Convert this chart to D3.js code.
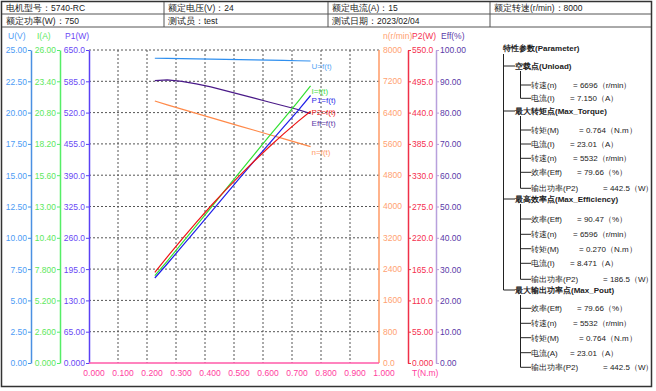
<!DOCTYPE html>
<html><head><meta charset="utf-8">
<script src="https://cdn.jsdelivr.net/npm/d3@7"></script>
<style>
body{margin:0;background:#fff}
text{font-family:"Liberation Sans",Arial,sans-serif}
</style></head>
<body><svg id="c" width="656" height="391"></svg>
<script>
// ---------- data ----------
const torque = [0.227,0.270,0.32,0.37,0.42,0.47,0.52,0.57,0.62,0.67,0.72,0.764];
const voltage = [24.34,24.33,24.31,24.29,24.27,24.25,24.23,24.21,24.19,24.17,24.14,24.12];
const current = [7.25,8.47,9.94,11.41,12.89,14.38,15.86,17.33,18.80,20.24,21.69,23.01];
const inputPower = [176.5,206.1,241.6,277.1,312.8,348.7,384.4,419.6,454.7,489.3,523.7,555.5];
const speed = [6696,6596,6488,6380,6272,6164,6056,5948,5840,5733,5626,5532];
const outputPower = [159.2,186.5,217.4,247.2,275.9,303.4,329.8,355.0,379.2,402.2,424.2,442.5];
const efficiency = [90.2,90.47,90.0,89.2,88.2,87.0,85.8,84.6,83.4,82.2,81.0,79.66];

const uTicks = ["0.00","2.50","5.00","7.50","10.00","12.50","15.00","17.50","20.00","22.50","25.00"];
const iTicks = ["0.000","2.600","5.200","7.800","10.40","13.00","15.60","18.20","20.80","23.40","26.00"];
const p1Ticks = ["0.000","65.00","130.0","195.0","260.0","325.0","390.0","455.0","520.0","585.0","650.0"];
const nTicks = ["0.0","800","1600","2400","3200","4000","4800","5600","6400","7200","8000"];
const p2Ticks = ["0.000","55.00","110.0","165.0","220.0","275.0","330.0","385.0","440.0","495.0","550.0"];
const effTicks = ["0.00","10.00","20.00","30.00","40.00","50.00","60.00","70.00","80.00","90.00","100.00"];
const tTicks = ["0.000","0.100","0.200","0.300","0.400","0.500","0.600","0.700","0.800","0.900","1.000"];

const headerRow1 = ["电机型号：5740-RC","额定电压(V)：24","额定电流(A)：15","额定转速(r/min)：8000"];
const headerRow2 = ["额定功率(W)：750","测试员：test","测试日期：2023/02/04",""];

const paramGroups = [
  {title:"空载点(Unload)", items:[["转速(n)","= 6696（r/min）"],["电流(I)","= 7.150（A）"]]},
  {title:"最大转矩点(Max_Torque)", items:[["转矩(M)","= 0.764（N.m）"],["电流(I)","= 23.01（A）"],["转速(n)","= 5532（r/min）"],["效率(Eff)","= 79.66（%）"],["输出功率(P2)","= 442.5（W）"]]},
  {title:"最高效率点(Max_Efficiency)", items:[["效率(Eff)","= 90.47（%）"],["转速(n)","= 6596（r/min）"],["转矩(M)","= 0.270（N.m）"],["电流(I)","= 8.471（A）"],["输出功率(P2)","= 186.5（W）"]]},
  {title:"最大输出功率点(Max_Pout)", items:[["效率(Eff)","= 79.66（%）"],["转速(n)","= 5532（r/min）"],["转矩(M)","= 0.764（N.m）"],["电流(A)","= 23.01（A）"],["输出功率(P2)","= 442.5（W）"]]}
];

// ---------- layout ----------
const svg = d3.select("#c");
const X0 = 89, X1 = 379, Y0 = 363, Y1 = 50;
const x = d3.scaleLinear([0,1],[X0,X1]);
const mk = m => d3.scaleLinear([0,m],[Y0,Y1]);
const yU = mk(25), yI = mk(26), yP1 = mk(650), yN = mk(8000), yP2 = mk(550), yE = mk(100);

// frame & header table
svg.append("rect").attr("x",1.5).attr("y",1.5).attr("width",650).attr("height",385)
  .attr("fill","none").attr("stroke","#333").attr("stroke-width",1.5);
const colX = [2,164,328,490];
[14,27].forEach(yy=>svg.append("line").attr("x1",2).attr("x2",651).attr("y1",yy).attr("y2",yy).attr("stroke","#555").attr("stroke-width",1));
colX.slice(1).forEach(xx=>svg.append("line").attr("x1",xx).attr("x2",xx).attr("y1",2).attr("y2",27).attr("stroke","#555"));
[headerRow1,headerRow2].forEach((row,r)=>row.forEach((t,i)=>{
  svg.append("text").attr("x",colX[i]+4).attr("y",11+r*13).attr("font-size",8.5).attr("fill","#222").text(t);
}));

// grid
const grid = svg.append("g").attr("stroke","#555").attr("stroke-dasharray","2,2").attr("stroke-width",1);
d3.range(1,11).forEach(i=>{
  grid.append("line").attr("x1",X0).attr("x2",X1).attr("y1",yE(i*10)).attr("y2",yE(i*10));
  if(i<10) grid.append("line").attr("x1",x(i/10)).attr("x2",x(i/10)).attr("y1",Y1).attr("y2",Y0);
});

// axes
function sideAxis(gen, scale, labels, max, xpos, lineCol, txtCol){
  const vals = labels.map((_,i)=>max*i/10);
  const g = svg.append("g").attr("transform",`translate(${xpos},0)`)
    .call(gen(scale).tickValues(vals).tickFormat((d,i)=>labels[i]).tickSize(3).tickSizeOuter(0).tickPadding(1));
  g.select(".domain").attr("stroke",lineCol).attr("stroke-width",1.5);
  g.selectAll(".tick line").attr("stroke",lineCol);
  g.selectAll("text").attr("fill",txtCol).attr("font-size",8.5).attr("dy","0.35em");
}
sideAxis(d3.axisLeft,yU,uTicks,25,31,"#4a90e2","#4d9cf5");
sideAxis(d3.axisLeft,yI,iTicks,26,60,"#55ee66","#5de85d");
sideAxis(d3.axisLeft,yP1,p1Ticks,650,89,"#5a40f5","#6a48f5");
sideAxis(d3.axisRight,yP2,p2Ticks,550,408,"#f03048","#f53050");
sideAxis(d3.axisRight,yE,effTicks,100,436,"#b8a0dc","#5a3aa8");

// n axis: line at plot right edge, labels between it and P2 axis
svg.append("line").attr("x1",X1).attr("x2",X1).attr("y1",Y1).attr("y2",Y0).attr("stroke","#ff9a66").attr("stroke-width",1.5);
nTicks.forEach((t,i)=>svg.append("text").attr("x",383).attr("y",yN(800*i)).attr("dy","0.35em")
  .attr("font-size",8.5).attr("fill","#ffa272").text(t));

// x axis
svg.append("line").attr("x1",X0).attr("x2",X1).attr("y1",Y0).attr("y2",Y0).attr("stroke","#ff5aa8").attr("stroke-width",1.5);
tTicks.forEach((t,i)=>svg.append("text").attr("x",x(i/10)+5).attr("y",376).attr("text-anchor","middle")
  .attr("font-size",8.5).attr("fill","#ff3d9e").text(t));
svg.append("text").attr("x",412).attr("y",376).attr("font-size",8.5).attr("fill","#ff3d9e").text("T(N.m)");

// axis titles
[["U(V)",8,"#4d9cf5"],["I(A)",37,"#5de85d"],["P1(W)",65,"#6a48f5"],["n(r/min)",383,"#ffa272"],["P2(W)",412,"#f53050"],["Eff(%)",441,"#5a3aa8"]]
  .forEach(([t,xx,c])=>svg.append("text").attr("x",xx).attr("y",39).attr("font-size",8.5).attr("fill",c).text(t));

// curves
const series = [
  {v:voltage, s:yU, c:"#2f8fef", lab:"U=f(t)", lc:"#5aa6f5", dy:8},
  {v:speed, s:yN, c:"#ff8a4a", lab:"n=f(t)", lc:"#ff9a66", dy:8},
  {v:efficiency, s:yE, c:"#4a1a88", lab:"Eff=f(t)", lc:"#5a3aa8", dy:12},
  {v:current, s:yI, c:"#33e033", lab:"I=f(t)", lc:"#44dd44", dy:8},
  {v:inputPower, s:yP1, c:"#1f1fe8", lab:"P1=f(t)", lc:"#2a2ae8", dy:7},
  {v:outputPower, s:yP2, c:"#ee1515", lab:"P2=f(t)", lc:"#ee2020", dy:4}
];
series.forEach(sr=>{
  const line = d3.line().x((d,i)=>x(torque[i])).y(d=>sr.s(d));
  svg.append("path").attr("d",line(sr.v)).attr("fill","none").attr("stroke",sr.c).attr("stroke-width",1.2);
  const last = sr.v.length-1;
  svg.append("text").attr("x",x(torque[last])+1).attr("y",sr.s(sr.v[last])+sr.dy)
    .attr("font-size",8).attr("fill",sr.lc).text(sr.lab);
});

// parameter panel
const P = svg.append("g").attr("font-size",8).attr("fill","#222");
const treeCol = "#222";
P.append("text").attr("x",503).attr("y",51).attr("font-weight","bold").text("特性参数(Parameter)");
const groupY = [66,111,199,290];
const itemY = [[85,98.3],[130,144,158.3,172.3,188.3],[219,234.3,248.7,263.3,279.3],[308.3,323.3,337.7,352.7,367.3]];
const eqX = {"转速(n)":573,"电流(I)":570,"电流(A)":570,"转矩(M)":579,"效率(Eff)":577,"输出功率(P2)":603};
P.append("line").attr("x1",503.5).attr("x2",503.5).attr("y1",54).attr("y2",groupY[3]).attr("stroke",treeCol);
paramGroups.forEach((g,gi)=>{
  const gy = groupY[gi];
  P.append("line").attr("x1",503.5).attr("x2",515).attr("y1",gy).attr("y2",gy).attr("stroke",treeCol);
  P.append("text").attr("x",515).attr("y",gy+3).attr("font-weight","bold").text(g.title);
  const ys = itemY[gi];
  P.append("line").attr("x1",520.5).attr("x2",520.5).attr("y1",gy+5).attr("y2",ys[ys.length-1]).attr("stroke",treeCol);
  g.items.forEach((it,ii)=>{
    const iy = ys[ii];
    P.append("line").attr("x1",520.5).attr("x2",531).attr("y1",iy).attr("y2",iy).attr("stroke",treeCol);
    P.append("text").attr("x",531).attr("y",iy+3).text(it[0]);
    P.append("text").attr("x",eqX[it[0]]).attr("y",iy+3).text(it[1]);
  });
});
</script></body></html>
